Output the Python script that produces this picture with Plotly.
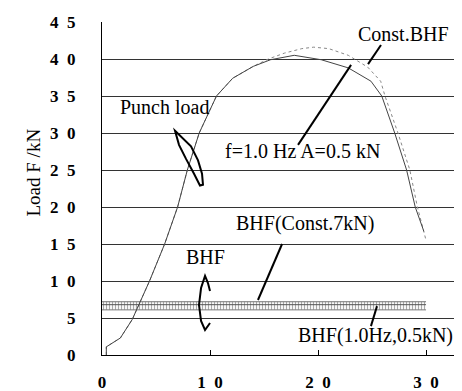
import plotly.graph_objects as go

# ---- data ----
const_x = [0.4, 0.4, 1.7, 2.8, 4.4, 5.8, 7.0, 7.9, 9.0, 10.6, 12.1, 14.0, 15.4, 16.9, 18.5, 19.6, 21.0, 22.8, 24.6, 25.8, 26.2, 27.4, 28.5, 29.2, 30.0]
const_y = [0, 1.1, 2.3, 4.8, 10.0, 15.0, 20.0, 25.0, 30.0, 35.0, 37.4, 39.0, 40.0, 40.8, 41.4, 41.6, 41.4, 40.5, 38.9, 37.0, 35.0, 30.0, 25.0, 20.0, 15.5]

osc_x = [0.4, 0.4, 1.7, 2.8, 4.4, 5.8, 7.0, 7.9, 9.0, 10.6, 12.1, 14.0, 15.6, 17.8, 20.3, 22.8, 24.9, 25.9, 27.1, 28.2, 29.0, 29.8]
osc_y = [0, 1.1, 2.3, 4.8, 10.0, 15.0, 20.0, 25.0, 30.0, 35.0, 37.4, 39.0, 39.9, 40.5, 39.9, 38.8, 37.0, 35.0, 30.0, 25.0, 20.0, 16.7]

bhf_x = [0, 30]
bhf_low = [6.1, 6.1]
bhf_high = [7.2, 7.2]
bhf_const = [6.8, 6.8]

NB = "\u00a0"
y_ticks = [0, 5, 10, 15, 20, 25, 30, 35, 40, 45]
y_ticktext = ["0", "5", "1" + NB * 2 + "0", "1" + NB * 2 + "5", "2" + NB * 2 + "0", "2" + NB * 2 + "5",
              "3" + NB * 2 + "0", "3" + NB * 2 + "5", "4" + NB * 2 + "0", "4" + NB * 2 + "5"]
x_ticks = [0, 10, 20, 30]
x_ticktext = ["0", "1" + NB * 2 + "0", "2" + NB * 2 + "0", "3" + NB * 2 + "0"]

SERIF = "Liberation Serif, Times New Roman, serif"

fig = go.Figure()

# BHF oscillating band (hatched)
fig.add_trace(go.Scatter(x=bhf_x, y=bhf_low, mode="lines",
                         line=dict(color="#777", width=1), showlegend=False))
fig.add_trace(go.Scatter(x=bhf_x, y=bhf_high, mode="lines", fill="tonexty",
                         fillpattern=dict(shape="|", size=3, solidity=0.4,
                                          fgcolor="#555", bgcolor="rgba(0,0,0,0)"),
                         line=dict(color="#777", width=1), showlegend=False))
fig.add_trace(go.Scatter(x=bhf_x, y=bhf_const, mode="lines",
                         line=dict(color="#555", width=1), showlegend=False))

# punch load curves
fig.add_trace(go.Scatter(x=const_x, y=const_y, mode="lines",
                         line=dict(color="#888", width=1, dash="dot"),
                         showlegend=False))
fig.add_trace(go.Scatter(x=osc_x, y=osc_y, mode="lines",
                         line=dict(color="#444", width=1),
                         showlegend=False))

# text annotations
def txt(x, y, s, anchor="center"):
    fig.add_annotation(x=x, y=y, xref="x", yref="y", text=s, showarrow=False,
                       xanchor=anchor, yanchor="middle",
                       font=dict(family=SERIF, size=20, color="black"))

txt(27.9, 43.4, "Const.BHF")
txt(5.74, 33.5, "Punch load")
txt(18.6, 27.6, "f=1.0 Hz A=0.5 kN")
txt(18.8, 17.8, "BHF(Const.7kN)")
txt(9.6, 13.2, "BHF")
txt(17.96, 2.7, "BHF(1.0Hz,0.5kN)", anchor="left")

# pointer lines
for (x0, y0, x1, y1) in [(25.83, 41.9, 24.63, 39.3), (18.15, 28.4, 23.06, 39.2),
                         (16.67, 15.0, 14.44, 7.43), (25.46, 6.6, 24.9, 3.9)]:
    fig.add_shape(type="line", xref="x", yref="y", x0=x0, y0=y0, x1=x1, y1=y1,
                  line=dict(color="black", width=2))

# hand-drawn loops
loop1 = [(6.76, 30.3), (8.24, 28.2), (8.89, 26.3), (9.26, 24.5), (9.35, 23.0),
         (9.07, 22.9), (8.52, 24.5), (7.78, 26.5), (7.13, 28.4)]
p1 = "M " + " L ".join(f"{a},{b}" for a, b in loop1) + " Z"
fig.add_shape(type="path", xref="x", yref="y", path=p1, line=dict(color="black", width=2))
loop2 = [(10.0, 8.65), (9.81, 9.73), (9.54, 10.7), (9.17, 9.05), (8.98, 6.76),
         (9.17, 4.6), (9.54, 3.38), (10.0, 4.32)]
p2 = "M " + " L ".join(f"{a},{b}" for a, b in loop2)
fig.add_shape(type="path", xref="x", yref="y", path=p2, line=dict(color="black", width=2))

# y-axis title
fig.add_annotation(xref="paper", yref="paper", x=(25 - 94) / 368, y=(347 - 164.5) / 333,
                   xanchor="center", yanchor="middle",
                   text="Load F /kN", showarrow=False, textangle=-90,
                   font=dict(family=SERIF, size=19, color="black"))

fig.update_layout(
    width=462, height=391,
    margin=dict(l=94, r=0, t=14, b=44),
    paper_bgcolor="white", plot_bgcolor="white",
    xaxis=dict(range=[0, 34.07], tickvals=x_ticks, ticktext=x_ticktext,
               ticks="inside", ticklen=5, tickcolor="black", tickwidth=1,
               showgrid=False, zeroline=False, showline=True, linecolor="black", linewidth=1,
               tickfont=dict(family=SERIF, size=17, color="black", weight="bold"),
               ticklabelstandoff=12),
    yaxis=dict(range=[0, 45], tickvals=y_ticks, ticktext=y_ticktext,
               ticks="", showgrid=True, gridcolor="#333", gridwidth=1,
               zeroline=False, showline=True, linecolor="black", linewidth=1,
               tickfont=dict(family=SERIF, size=17, color="black", weight="bold"),
               ticklabelstandoff=22),
)

fig.write_html("out.html")
